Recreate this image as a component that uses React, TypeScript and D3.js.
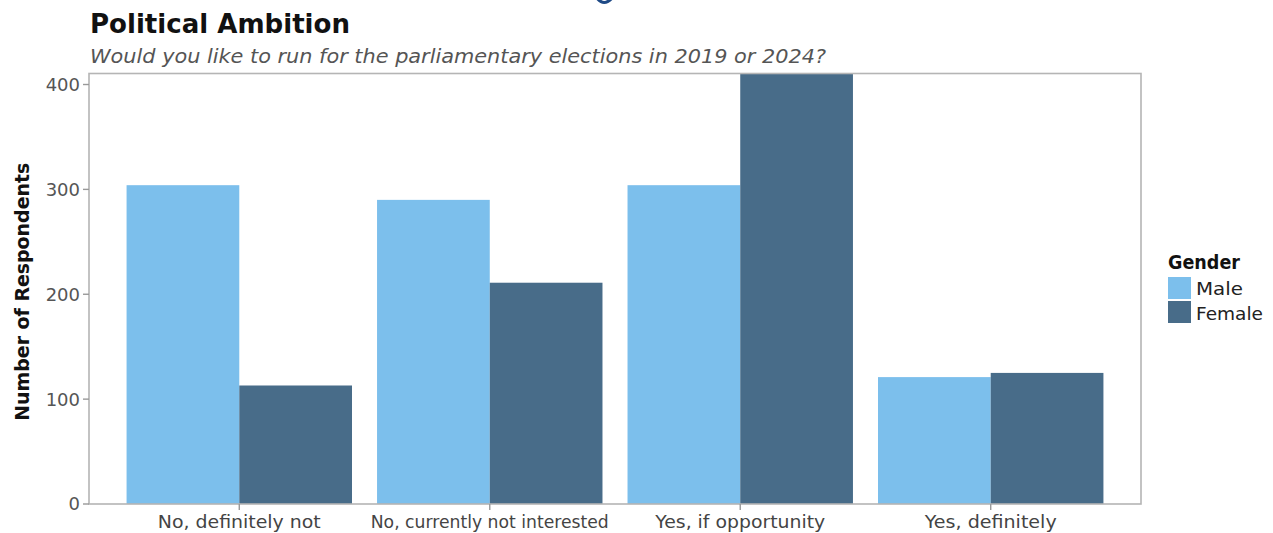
import React from "react";
import * as d3 from "d3";

const categories = [
  "No, definitely not",
  "No, currently not interested",
  "Yes, if opportunity",
  "Yes, definitely",
];
const genders = ["Male", "Female"];
const maleValues = [304, 290, 304, 121];
const femaleValues = [113, 211, 411, 125];
const yTicks = [0, 100, 200, 300, 400];

const W = 1273;
const H = 533;
const panel = { left: 89, right: 1141, top: 73.5, bottom: 504 };
const colors: Record<string, string> = { Male: "#7cbfec", Female: "#486c89" };
const FONT = "'DejaVu Sans', sans-serif";

export default function App() {
  const y = d3.scaleLinear().domain([0, 410.5]).range([panel.bottom, panel.top]);
  // ggplot-style discrete scale: positions 1..n with 0.6 expansion
  const xPos = d3
    .scaleLinear()
    .domain([0.4, categories.length + 0.6])
    .range([panel.left, panel.right]);
  const barW = xPos(1.9) - xPos(1);
  const data = categories.map((c, i) => ({
    cat: c,
    center: xPos(i + 1),
    vals: [maleValues[i], femaleValues[i]],
  }));
  const labelLens = [163, 238, 170, 132];

  return (
    <div style={{ position: "absolute", left: 0, top: 0 }}>
      <svg width={W} height={H} style={{ display: "block", background: "#fff" }}>
        <defs>
          <clipPath id="panelClip">
            <rect x={panel.left} y={panel.top} width={panel.right - panel.left} height={panel.bottom - panel.top} />
          </clipPath>
        </defs>
        {/* clipped descender fragment of text above the crop */}
        <path d="M597,-2 Q604,7 612,-2" fill="none" stroke="#1f4a86" strokeWidth={3.2} />
        <text x={90} y={33} fontFamily={FONT} fontWeight="bold" fontSize={27} fill="#111" textLength={260} lengthAdjust="spacingAndGlyphs">
          Political Ambition
        </text>
        <text x={90} y={63} fontFamily={FONT} fontStyle="italic" fontSize={20} fill="#555" textLength={736} lengthAdjust="spacingAndGlyphs">
          Would you like to run for the parliamentary elections in 2019 or 2024?
        </text>

        <g clipPath="url(#panelClip)">
          {data.map((d, i) =>
            d.vals.map((v, j) => {
              const x0 = d.center - barW / 2 + (j * barW) / 2;
              return (
                <rect
                  key={`${i}-${j}`}
                  x={x0}
                  y={y(v)}
                  width={barW / 2}
                  height={y(0) - y(v)}
                  fill={colors[genders[j]]}
                />
              );
            })
          )}
        </g>
        <rect
          x={panel.left}
          y={panel.top}
          width={panel.right - panel.left}
          height={panel.bottom - panel.top}
          fill="none"
          stroke="#b5b5b5"
          strokeWidth={1.6}
        />
        {yTicks.map((t) => (
          <g key={t}>
            <line x1={panel.left - 6} x2={panel.left} y1={y(t)} y2={y(t)} stroke="#999" strokeWidth={1.4} />
            <text x={panel.left - 9} y={y(t)} dy="0.36em" textAnchor="end" fontFamily={FONT} fontSize={18} fill="#555">
              {t}
            </text>
          </g>
        ))}
        {data.map((d, i) => (
          <g key={d.cat}>
            <line x1={d.center} x2={d.center} y1={panel.bottom} y2={panel.bottom + 6} stroke="#999" strokeWidth={1.4} />
            <text
              x={d.center}
              y={528}
              textAnchor="middle"
              fontFamily={FONT}
              fontSize={18}
              fill="#444"
              textLength={labelLens[i]}
              lengthAdjust="spacingAndGlyphs"
            >
              {d.cat}
            </text>
          </g>
        ))}
        <text
          transform={`translate(29, ${(panel.top + panel.bottom) / 2 + 3}) rotate(-90)`}
          textAnchor="middle"
          fontFamily={FONT}
          fontWeight="bold"
          fontSize={19}
          fill="#111"
          textLength={258}
          lengthAdjust="spacingAndGlyphs"
        >
          Number of Respondents
        </text>

        <text x={1168} y={269} fontFamily={FONT} fontWeight="bold" fontSize={20} fill="#111" textLength={72} lengthAdjust="spacingAndGlyphs">
          Gender
        </text>
        {genders.map((g, i) => (
          <g key={g}>
            <rect x={1168} y={277 + i * 24} width={23} height={22} fill={colors[g]} />
            <text x={1196} y={295 + i * 25} fontFamily={FONT} fontSize={17} fill="#222" textLength={i === 0 ? 47 : 67} lengthAdjust="spacingAndGlyphs">
              {g}
            </text>
          </g>
        ))}
      </svg>
    </div>
  );
}
